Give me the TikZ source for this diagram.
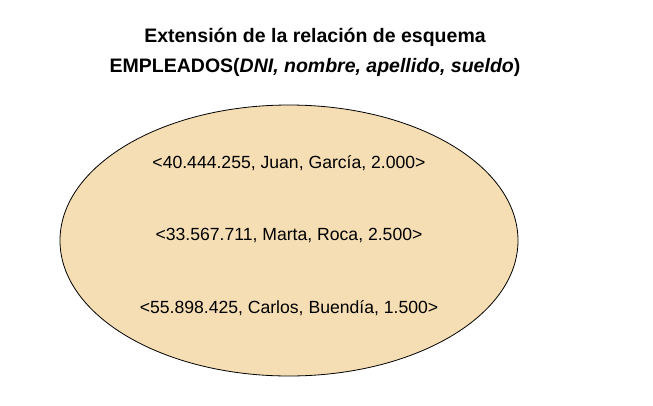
\documentclass[tikz,border=0pt]{standalone}
\usepackage{fontspec}
\setmainfont{Liberation Sans}
\usetikzlibrary{shapes.geometric}
\definecolor{relfill}{HTML}{F5DEB3}
\tikzset{
  tuple/.style={font=\fontsize{17.6}{20}\selectfont, inner sep=0pt},
  titulo/.style={font=\bfseries\fontsize{19.5}{30}\selectfont, align=center, inner sep=0pt}
}
\begin{document}
\begin{tikzpicture}[x=1pt,y=-1pt]
  \useasboundingbox (0,0) rectangle (653,405);
  \node[ellipse, draw, fill=relfill, line width=0.8pt,
        minimum width=458pt, minimum height=271pt] (ext) at (289,240.5) {};
  \node[titulo] (titulo) at (315,52) {Extensión de la relación de esquema\\
    EMPLEADOS(\textit{DNI, nombre, apellido, sueldo})};
  \draw
    (289,163) node[tuple] (t1) {<40.444.255, Juan, García, 2.000>}
    (289,235) node[tuple] (t2) {<33.567.711, Marta, Roca, 2.500>}
    (289,308) node[tuple] (t3) {<55.898.425, Carlos, Buendía, 1.500>};
\end{tikzpicture}
\end{document}
